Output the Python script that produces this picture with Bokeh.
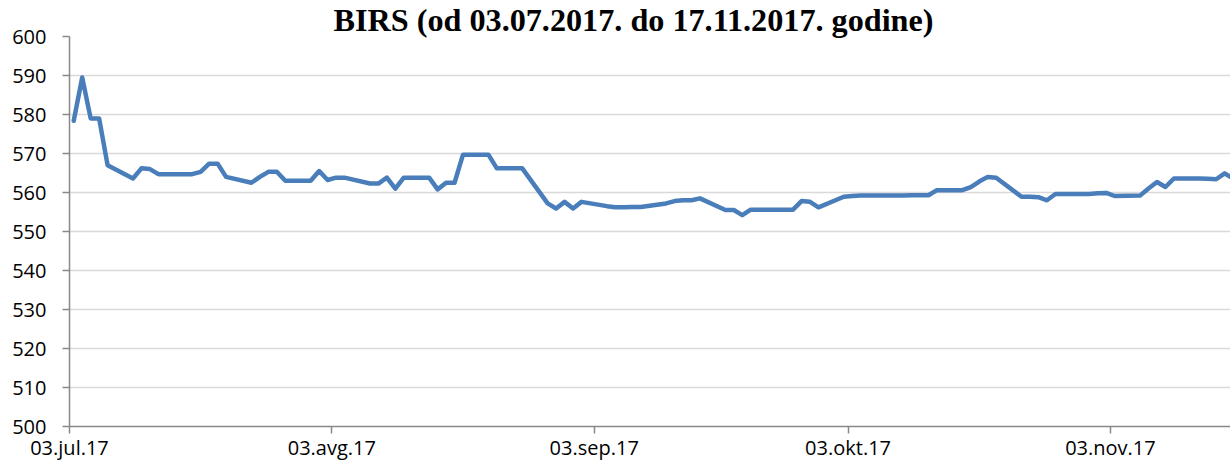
import pandas as pd
from bokeh.plotting import figure
from bokeh.models import Range1d, FixedTicker
from bokeh.embed import file_html
from bokeh.resources import INLINE

title_text = "BIRS (od 03.07.2017. do 17.11.2017. godine)"

dates = [
    "2017-07-03", "2017-07-04", "2017-07-05", "2017-07-06", "2017-07-07",
    "2017-07-10", "2017-07-11", "2017-07-12", "2017-07-13", "2017-07-14",
    "2017-07-17", "2017-07-18", "2017-07-19", "2017-07-20", "2017-07-21",
    "2017-07-24", "2017-07-25", "2017-07-26", "2017-07-27", "2017-07-28",
    "2017-07-31", "2017-08-01", "2017-08-02", "2017-08-03", "2017-08-04",
    "2017-08-07", "2017-08-08", "2017-08-09", "2017-08-10", "2017-08-11",
    "2017-08-14", "2017-08-15", "2017-08-16", "2017-08-17", "2017-08-18",
    "2017-08-21", "2017-08-22", "2017-08-23", "2017-08-24", "2017-08-25",
    "2017-08-28", "2017-08-29", "2017-08-30", "2017-08-31", "2017-09-01",
    "2017-09-04", "2017-09-05", "2017-09-06", "2017-09-07", "2017-09-08",
    "2017-09-11", "2017-09-12", "2017-09-13", "2017-09-14", "2017-09-15",
    "2017-09-18", "2017-09-19", "2017-09-20", "2017-09-21", "2017-09-22",
    "2017-09-25", "2017-09-26", "2017-09-27", "2017-09-28", "2017-09-29",
    "2017-10-02", "2017-10-03", "2017-10-04", "2017-10-05", "2017-10-06",
    "2017-10-09", "2017-10-10", "2017-10-11", "2017-10-12", "2017-10-13",
    "2017-10-16", "2017-10-17", "2017-10-18", "2017-10-19", "2017-10-20",
    "2017-10-23", "2017-10-24", "2017-10-25", "2017-10-26", "2017-10-27",
    "2017-10-30", "2017-10-31", "2017-11-01", "2017-11-02", "2017-11-03",
    "2017-11-06", "2017-11-07", "2017-11-08", "2017-11-09", "2017-11-10",
    "2017-11-13", "2017-11-14", "2017-11-15", "2017-11-16", "2017-11-17",
]

values = [
    578.4, 589.5, 579.0, 579.0, 567.0,
    563.6, 566.2, 566.0, 564.7, 564.7,
    564.7, 565.3, 567.4, 567.4, 564.0,
    562.5, 564.0, 565.3, 565.3, 563.0,
    563.0, 565.5, 563.2, 563.8, 563.8,
    562.3, 562.3, 563.8, 561.0, 563.8,
    563.8, 560.8, 562.5, 562.5, 569.7,
    569.7, 566.2, 566.2, 566.2, 566.2,
    557.2, 555.9, 557.6, 555.9, 557.6,
    556.5, 556.2, 556.2, 556.3, 556.3,
    557.2, 557.8, 558.0, 558.0, 558.5,
    555.5, 555.5, 554.2, 555.6, 555.6,
    555.6, 555.6, 557.8, 557.6, 556.2,
    558.9, 559.1, 559.2, 559.2, 559.2,
    559.2, 559.3, 559.3, 559.3, 560.6,
    560.6, 561.4, 562.8, 564.0, 563.8,
    558.9, 558.9, 558.8, 558.0, 559.6,
    559.6, 559.6, 559.8, 559.9, 559.1,
    559.2, 561.0, 562.7, 561.4, 563.6,
    563.6, 563.5, 563.4, 564.9, 563.6,
]

tick_dates = ["2017-07-03", "2017-08-03", "2017-09-03", "2017-10-03", "2017-11-03"]
tick_labels = ["03.jul.17", "03.avg.17", "03.sep.17", "03.okt.17", "03.nov.17"]

y_ticks = [500, 510, 520, 530, 540, 550, 560, 570, 580, 590, 600]

start = pd.Timestamp("2017-07-03")
# each day occupies one slot; a point sits in the middle of its day's slot
x_days = [(pd.Timestamp(d) - start).days + 0.5 for d in dates]
tick_days = [(pd.Timestamp(d) - start).days for d in tick_dates]

p = figure(
    frame_width=1161, frame_height=390,
    output_backend="svg", toolbar_location=None,
    x_range=Range1d(0, 137.19), y_range=Range1d(500, 600),
    min_border_left=69, min_border_right=0, min_border_top=36, min_border_bottom=35,
    background_fill_color="white", border_fill_color="white",
    title=title_text,
)
p.outline_line_color = None

p.title.align = "left"
p.title.offset = 264
p.title.standoff = -2
p.title.text_font = "Liberation Serif"
p.title.text_font_style = "bold"
p.title.text_font_size = "32.2px"
p.title.text_color = "#000000"

p.line(x_days, values, line_color="#4A7EBB", line_width=4.5, line_join="round", line_cap="round")

# x axis
p.xaxis.ticker = FixedTicker(ticks=tick_days)
p.xaxis.major_label_overrides = {t: l for t, l in zip(tick_days, tick_labels)}
p.xaxis.minor_tick_line_color = None
p.xaxis.major_tick_in = 0
p.xaxis.major_tick_out = 7
p.xaxis.axis_line_color = "#898989"
p.xaxis.major_tick_line_color = "#898989"
p.xaxis.axis_line_width = 1.5
p.xaxis.major_tick_line_width = 1.5
p.xaxis.major_label_text_font = "Open Sans"
p.xaxis.major_label_text_font_size = "20px"
p.xaxis.major_label_text_color = "#000000"
p.xaxis.major_label_standoff = 0

# y axis
p.yaxis.ticker = FixedTicker(ticks=y_ticks)
p.yaxis.minor_tick_line_color = None
p.yaxis.major_tick_in = 0
p.yaxis.major_tick_out = 7
p.yaxis.axis_line_color = "#898989"
p.yaxis.major_tick_line_color = "#898989"
p.yaxis.axis_line_width = 1.5
p.yaxis.major_tick_line_width = 1.5
p.yaxis.major_label_text_font = "Open Sans"
p.yaxis.major_label_text_font_size = "20px"
p.yaxis.major_label_text_color = "#000000"
p.yaxis.major_label_standoff = 16

p.xgrid.grid_line_color = None
p.ygrid.ticker = FixedTicker(ticks=y_ticks)
p.ygrid.grid_line_color = "#D9D9D9"
p.ygrid.grid_line_width = 1.5

open("out.html", "w").write(file_html(p, INLINE))
